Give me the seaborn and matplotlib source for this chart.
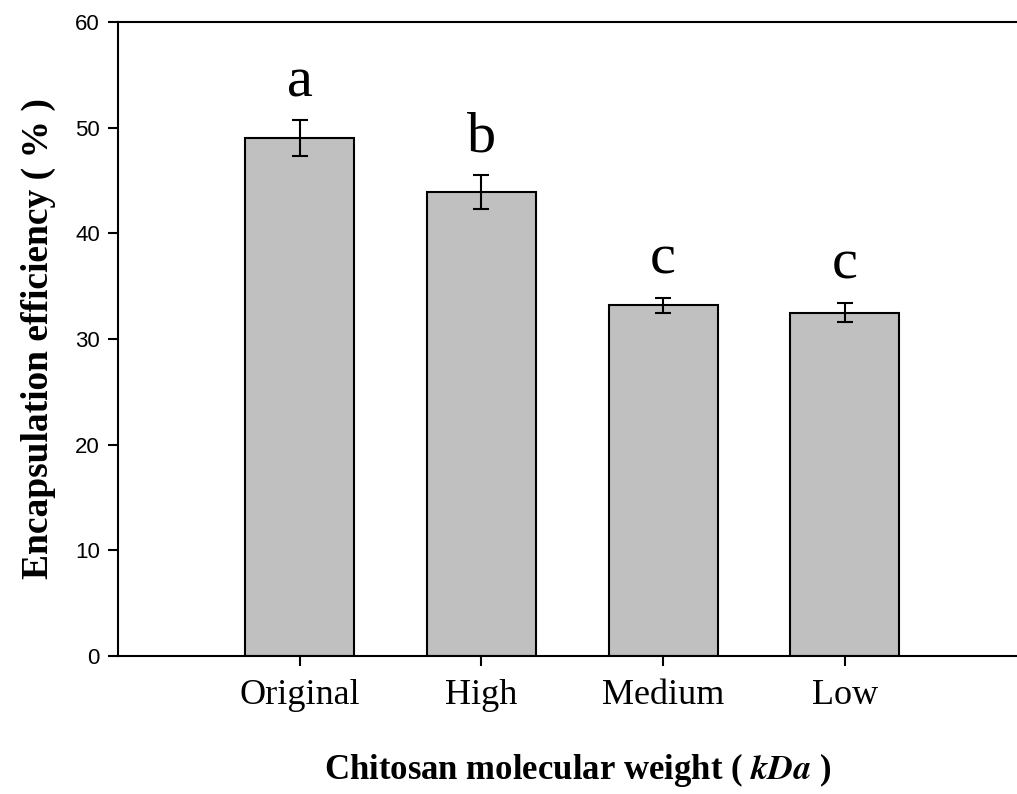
import matplotlib
matplotlib.use("Agg")
import matplotlib.pyplot as plt
import seaborn as sns
import pandas as pd

# Data
categories = ["Original", "High", "Medium", "Low"]
efficiency = [49.0, 43.9, 33.2, 32.5]
errors = [1.7, 1.6, 0.7, 0.9]
letters = ["a", "b", "c", "c"]

df = pd.DataFrame({"weight": categories, "efficiency": efficiency})

sns.set_style("ticks")
plt.rcParams["font.family"] = ["Liberation Serif", "DejaVu Serif"]
plt.rcParams["mathtext.fontset"] = "stix"
plt.rcParams["text.color"] = "black"
plt.rcParams["axes.labelcolor"] = "black"
plt.rcParams["xtick.color"] = "black"
plt.rcParams["ytick.color"] = "black"

fig = plt.figure(figsize=(10.17, 7.94), dpi=100)
ax = fig.add_axes([0.116, 0.174, 0.904, 0.798])

sns.barplot(data=df, x="weight", y="efficiency", color="#c0c0c0",
            edgecolor="black", linewidth=1.5, width=0.6, saturation=1,
            errorbar=None, ax=ax)

ax.errorbar(range(len(categories)), efficiency, yerr=errors, fmt="none",
            ecolor="black", elinewidth=1.5, capsize=6, capthick=1.5)

# significance letters
for i, (v, e, t) in enumerate(zip(efficiency, errors, letters)):
    ax.text(i, v + e + 2.3, t, ha="center", va="baseline", fontsize=42,
            family="Liberation Serif")

ax.set_ylim(0, 60)
ax.set_xlim(-1.0, 4.06)
ax.set_yticks(range(0, 61, 10))
ax.tick_params(axis="y", length=7, width=1.5, labelsize=16, pad=6)
ax.tick_params(axis="x", length=7, width=1.5, labelsize=26, pad=10)
for lab in ax.get_yticklabels():
    lab.set_family("Liberation Sans")

for side in ["left", "bottom", "top"]:
    ax.spines[side].set_linewidth(1.5)
    ax.spines[side].set_color("black")
ax.spines["right"].set_visible(False)

ax.set_xlabel("Chitosan molecular weight ( $\\mathbfit{kDa}$ )", fontsize=25,
              fontweight="bold", labelpad=28)
ax.set_ylabel("Encapsulation efficiency ( % )", fontsize=27,
              fontweight="bold", labelpad=14)

fig.savefig("out.png", dpi=100)
